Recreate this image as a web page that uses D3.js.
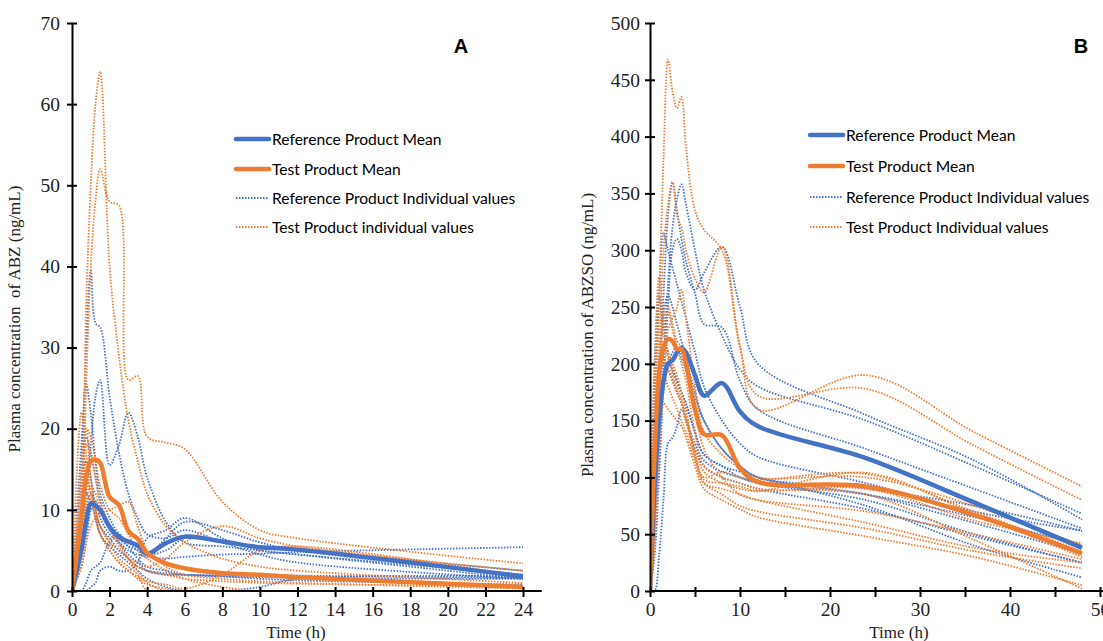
<!DOCTYPE html>
<html>
<head>
<meta charset="utf-8">
<script src="https://cdn.jsdelivr.net/npm/d3@7"></script>
<style>
  body { margin: 0; background: #fff; }
  svg { display: block; }
</style>
</head>
<body>
<script>
const WIDTH = 1103;
const HEIGHT = 641;
const BLUE = '#4472C4';
const ORANGE = '#ED7D31';

// ---- panel A data (ABZ, 0-24 h) ----
var timesA = [0, 0.5, 0.75, 1, 1.25, 1.5, 2, 2.5, 3, 3.5, 4, 5, 6, 8, 10, 12, 24];
var refMeanA  = [0, 5, 8.5, 10.8, 10.5, 10, 7.9, 6.6, 6.1, 5.6, 4.6, 5.9, 6.7, 6.1, 5.4, 5.1, 1.8];
var testMeanA = [0, 9, 14, 16, 16.2, 15.8, 11.6, 10.6, 7.4, 6.4, 4.7, 3.4, 2.8, 2.2, 2.0, 1.7, 0.5];
var refIndA = [
  [0, 15, 30, 39.5, 33, 32.5, 24, 17, 12, 9, 7, 6.5, 7.5, 6, 4.5, 3.5, 1.5],
  [0, 5, 12, 18, 24, 26, 15.5, 18, 22, 19, 14, 8.5, 6, 5.5, 5, 4.5, 2],
  [0, 18, 25.5, 22, 16, 12, 9, 7, 6, 5, 4.5, 6.5, 8.5, 7.5, 6, 5, 2],
  [0, 3, 6, 10, 11, 9, 7, 6, 5, 4.5, 4.2, 4, 4.2, 4.5, 4.6, 4.8, 5.4],
  [0, 0, 0, 0.5, 1, 2.5, 3, 2.5, 2.5, 3.5, 6.5, 7.5, 9, 6.5, 5, 4.5, 1.5],
  [0, 8, 12, 11, 9, 7, 5.5, 4.5, 3.5, 2.5, 1.5, 0.5, 0, 0, 0.5, 1.5, 1.8],
  [0, 6, 10, 12, 11, 10, 8, 6, 4.5, 3.5, 2.5, 2, 2, 1.8, 1.5, 1.3, 0.8],
  [0, 10, 16, 14, 10, 8, 6.5, 5, 4, 3, 2.5, 2.2, 2, 1.8, 1.7, 1.6, 1.5],
  [0, 0, 1, 2.5, 3, 3.5, 6, 7, 5.5, 4, 3, 2.5, 2, 2, 2, 1.9, 1.6],
  [0, 12, 19, 17, 14, 11, 8, 6.5, 5.5, 5, 4.5, 5, 6.5, 6, 5.5, 5, 2.5]
];
var testIndA = [
  [0, 10, 35, 50, 60, 64, 40, 29, 21, 16, 12, 8, 6, 4, 3, 2.5, 1],
  [0, 8, 25, 40, 48, 52, 48, 47.5, 26, 26.5, 19, 18.3, 17.5, 11, 7.5, 6.5, 3.4],
  [0, 15, 20, 14, 10, 8, 6, 4, 3, 2, 0, 0, 0, 0, 0, 0, 0],
  [0, 3, 6, 8, 9, 9.5, 10, 10.5, 11, 8, 5, 3, 2, 1.5, 1.2, 1, 0.3],
  [0, 5, 10, 12, 10, 8, 6, 5, 4, 3.5, 3, 4, 6, 8, 6.5, 5.5, 2.5],
  [0, 8, 14, 12, 9, 7, 5, 3.5, 2.5, 1.8, 1.2, 0.8, 0.3, 2, 5, 5.5, 1.8],
  [0, 12, 18, 17, 14, 11, 8, 6, 4, 2.5, 1, 0, 0, 0, 0, 0, 0],
  [0, 6, 11, 13, 12, 10, 7.5, 5.5, 4, 3, 2.5, 2, 1.5, 1.2, 1, 0.9, 0.5],
  [0, 22, 17, 12, 9, 7, 5, 3.5, 2.5, 1.5, 0.8, 0.3, 0, 0, 0, 0, 0],
  [0, 14, 20, 19, 16, 13, 10, 9, 7, 5, 4, 2.5, 1.5, 0.5, 0, 0, 0]
];
var xTicksA = [0, 2, 4, 6, 8, 10, 12, 14, 16, 18, 20, 22, 24];
var yTicksA = [0, 10, 20, 30, 40, 50, 60, 70];

// ---- panel B data (ABZSO, 0-48 h) ----
var timesB = [0, 0.5, 1, 1.5, 2, 2.5, 3, 3.5, 4, 5, 6, 8, 10, 12, 24, 36, 48];
var refMeanB  = [0, 90, 150, 185, 200, 203, 210, 214, 210, 190, 172, 183, 158, 145, 117, 78, 38];
var testMeanB = [0, 120, 190, 215, 222, 220, 213, 213, 200, 160, 138, 137, 108, 96, 92, 67, 33];
var refIndB = [
  [0, 50, 150, 260, 330, 360, 335, 310, 290, 262, 235, 232, 185, 160, 125, 90, 55],
  [0, 40, 120, 200, 270, 320, 345, 358, 340, 300, 265, 225, 195, 180, 150, 110, 68],
  [0, 30, 100, 180, 250, 300, 310, 300, 280, 265, 280, 303, 250, 200, 155, 115, 63],
  [0, 150, 260, 315, 300, 285, 270, 255, 240, 210, 180, 150, 130, 118, 95, 70, 53],
  [0, 100, 200, 245, 260, 250, 235, 220, 205, 175, 150, 125, 110, 100, 85, 60, 33],
  [0, 0, 30, 80, 130, 135, 145, 160, 150, 130, 115, 105, 100, 95, 80, 50, 25],
  [0, 80, 150, 190, 200, 195, 185, 175, 165, 140, 120, 110, 105, 100, 75, 40, 12],
  [0, 60, 130, 175, 200, 210, 215, 205, 195, 170, 150, 125, 110, 100, 90, 75, 53],
  [0, 120, 180, 200, 195, 185, 175, 165, 150, 125, 110, 100, 95, 90, 72, 48, 25],
  [0, 200, 260, 230, 210, 195, 185, 175, 165, 140, 120, 110, 100, 95, 85, 65, 40]
];
var testIndB = [
  [0, 100, 250, 380, 468, 440, 425, 435, 390, 335, 318, 300, 215, 172, 178, 128, 80],
  [0, 80, 200, 300, 340, 360, 330, 320, 300, 275, 263, 303, 215, 160, 190, 140, 92],
  [0, 40, 120, 180, 230, 240, 250, 265, 240, 180, 140, 120, 108, 100, 100, 75, 40],
  [0, 180, 276, 240, 210, 200, 190, 175, 160, 120, 100, 105, 100, 98, 103, 70, 35],
  [0, 150, 230, 225, 210, 195, 180, 170, 155, 120, 95, 90, 85, 80, 70, 50, 28],
  [0, 130, 200, 235, 245, 230, 215, 200, 185, 140, 110, 100, 95, 90, 85, 45, 2],
  [0, 100, 170, 190, 180, 170, 160, 150, 140, 115, 95, 85, 75, 70, 55, 35, 20],
  [0, 160, 220, 215, 205, 190, 175, 165, 150, 125, 105, 95, 90, 88, 104, 68, 30],
  [0, 90, 150, 165, 160, 155, 150, 145, 135, 110, 90, 80, 72, 65, 48, 30, 5],
  [0, 140, 200, 205, 195, 185, 175, 165, 150, 118, 98, 95, 92, 88, 90, 62, 42],
  [0, 120, 180, 240, 250, 235, 220, 215, 200, 160, 125, 100, 85, 80, 60, 38, 25]
];
var xTicksB = [0, 5, 10, 15, 20, 25, 30, 35, 40, 45, 50];
var yTicksB = [0, 50, 100, 150, 200, 250, 300, 350, 400, 450, 500];

var legendA = ['Reference Product Mean', 'Test Product Mean', 'Reference Product Individual values', 'Test Product individual values'];
var legendB = ['Reference Product Mean', 'Test Product Mean', 'Reference Product Individual values', 'Test Product Individual values'];

var svg = d3.select('body').append('svg')
  .attr('width', WIDTH)
  .attr('height', HEIGHT);

var SERIF = '"Liberation Serif", "Times New Roman", serif';

var drawPanel = function(p){
  var x = d3.scaleLinear().domain([0, p.xMax]).range([p.left, p.right]);
  var y = d3.scaleLinear().domain([0, p.yMax]).range([591, 23]);
  var g = svg.append('g');

  // keep smoothed curves from dipping under the x axis
  svg.append('clipPath').attr('id', 'clip' + p.letter)
    .append('rect').attr('x', p.left).attr('y', 0)
    .attr('width', p.right - p.left + 5).attr('height', 591);
  var plot = g.append('g').attr('clip-path', 'url(#clip' + p.letter + ')');

  var line = function(vals){
    return d3.line()
      .x(function(d, i){ return x(p.times[i]); })
      .y(function(d){ return y(d); })
      .curve(d3.curveCatmullRom.alpha(0.5))(vals);
  };

  // individual subjects
  p.refInd.forEach(function(s){
    plot.append('path').attr('d', line(s))
      .attr('fill', 'none').attr('stroke', BLUE)
      .attr('stroke-width', 1.8).attr('stroke-dasharray', '1.5,1.5');
  });
  p.testInd.forEach(function(s){
    plot.append('path').attr('d', line(s))
      .attr('fill', 'none').attr('stroke', ORANGE)
      .attr('stroke-width', 1.8).attr('stroke-dasharray', '1.5,1.5');
  });
  // means
  plot.append('path').attr('d', line(p.refMean))
    .attr('fill', 'none').attr('stroke', BLUE)
    .attr('stroke-width', 4.5).attr('stroke-linejoin', 'round');
  plot.append('path').attr('d', line(p.testMean))
    .attr('fill', 'none').attr('stroke', ORANGE)
    .attr('stroke-width', 4.5).attr('stroke-linejoin', 'round');

  // y axis, ticks crossing the line
  var yAx = g.append('g').attr('transform', 'translate(' + p.left + ',0)')
    .call(d3.axisLeft(y).tickValues(p.yTicks).tickSize(5).tickSizeOuter(0).tickPadding(p.yPad));
  g.append('g').attr('transform', 'translate(' + p.left + ',0)')
    .call(d3.axisRight(y).tickValues(p.yTicks).tickSize(5).tickSizeOuter(0).tickFormat(''))
    .select('.domain').remove();

  // x axis
  var xAx = g.append('g').attr('transform', 'translate(0,591)')
    .call(d3.axisBottom(x).tickValues(p.xTicks).tickSize(6).tickSizeOuter(0).tickPadding(5)
      .tickFormat(function(d){ return d % p.labelStep === 0 ? d : ''; }));
  xAx.select('.domain').remove();
  g.append('g').attr('transform', 'translate(0,591)')
    .call(d3.axisTop(x).tickValues(p.xTicks).tickSize(4).tickFormat(''))
    .select('.domain').remove();
  g.append('line')
    .attr('x1', x(0)).attr('x2', x(p.axisEnd))
    .attr('y1', 591).attr('y2', 591)
    .attr('stroke', '#000').attr('stroke-width', 2);

  g.selectAll('.tick line').attr('stroke', '#000').attr('stroke-width', 2);
  yAx.select('.domain').attr('stroke', '#000').attr('stroke-width', 2);
  g.selectAll('.tick text')
    .style('font-family', SERIF)
    .style('font-size', '19.5px').attr('fill', '#222');

  // axis titles
  g.append('text')
    .attr('x', p.xTitleX).attr('y', 638)
    .attr('text-anchor', 'middle')
    .style('font-family', SERIF)
    .style('font-size', '17px').attr('fill', '#222')
    .text('Time (h)');
  g.append('text')
    .attr('transform', 'translate(' + p.yTitleX + ',' + p.yTitleY + ') rotate(-90)')
    .attr('text-anchor', 'middle')
    .style('font-family', SERIF)
    .style('font-size', '17px').attr('fill', '#222')
    .style('white-space', 'pre')
    .text(p.yTitle);

  // panel letter
  g.append('text')
    .attr('x', p.letterX).attr('y', 53)
    .attr('text-anchor', 'middle')
    .style('font-family', '"Liberation Sans", Arial, sans-serif')
    .style('font-weight', 'bold').style('font-size', '20px')
    .text(p.letter);

  // legend
  var styles = [
    {c: BLUE, w: 4.5, dash: null},
    {c: ORANGE, w: 4.5, dash: null},
    {c: BLUE, w: 1.8, dash: '1.5,1.5'},
    {c: ORANGE, w: 1.8, dash: '1.5,1.5'}
  ];
  p.legend.forEach(function(txt, i){
    var ly = p.legY[i];
    g.append('line')
      .attr('x1', p.legX).attr('x2', p.legX + 33)
      .attr('y1', ly).attr('y2', ly)
      .attr('stroke', styles[i].c).attr('stroke-width', styles[i].w)
      .attr('stroke-linecap', styles[i].dash ? 'butt' : 'round')
      .attr('stroke-dasharray', styles[i].dash);
    g.append('text')
      .attr('x', p.legX + 36).attr('y', ly + 6)
      .style('font-family', 'Lato, "Open Sans", sans-serif')
      .style('font-size', '15.6px').attr('fill', '#000')
      .text(txt);
  });
};

drawPanel({
  times: timesA, refMean: refMeanA, testMean: testMeanA, refInd: refIndA, testInd: testIndA,
  xMax: 24, yMax: 70, left: 72, right: 523, axisEnd: 25,
  xTicks: xTicksA, yTicks: yTicksA, labelStep: 2, yPad: 7,
  xTitleX: 296, yTitleX: 20, yTitleY: 319,
  yTitle: 'Plasma concentration  of ABZ (ng/mL)',
  letter: 'A', letterX: 461,
  legend: legendA, legX: 236, legY: [139, 169, 198, 227]
});

drawPanel({
  times: timesB, refMean: refMeanB, testMean: testMeanB, refInd: refIndB, testInd: testIndB,
  xMax: 50, yMax: 500, left: 650, right: 1100, axisEnd: 51,
  xTicks: xTicksB, yTicks: yTicksB, labelStep: 10, yPad: 5,
  xTitleX: 899, yTitleX: 593, yTitleY: 335,
  yTitle: 'Plasma concentration of ABZSO (ng/mL)',
  letter: 'B', letterX: 1081,
  legend: legendB, legX: 810, legY: [135, 166, 197, 227]
});
</script>
</body>
</html>
